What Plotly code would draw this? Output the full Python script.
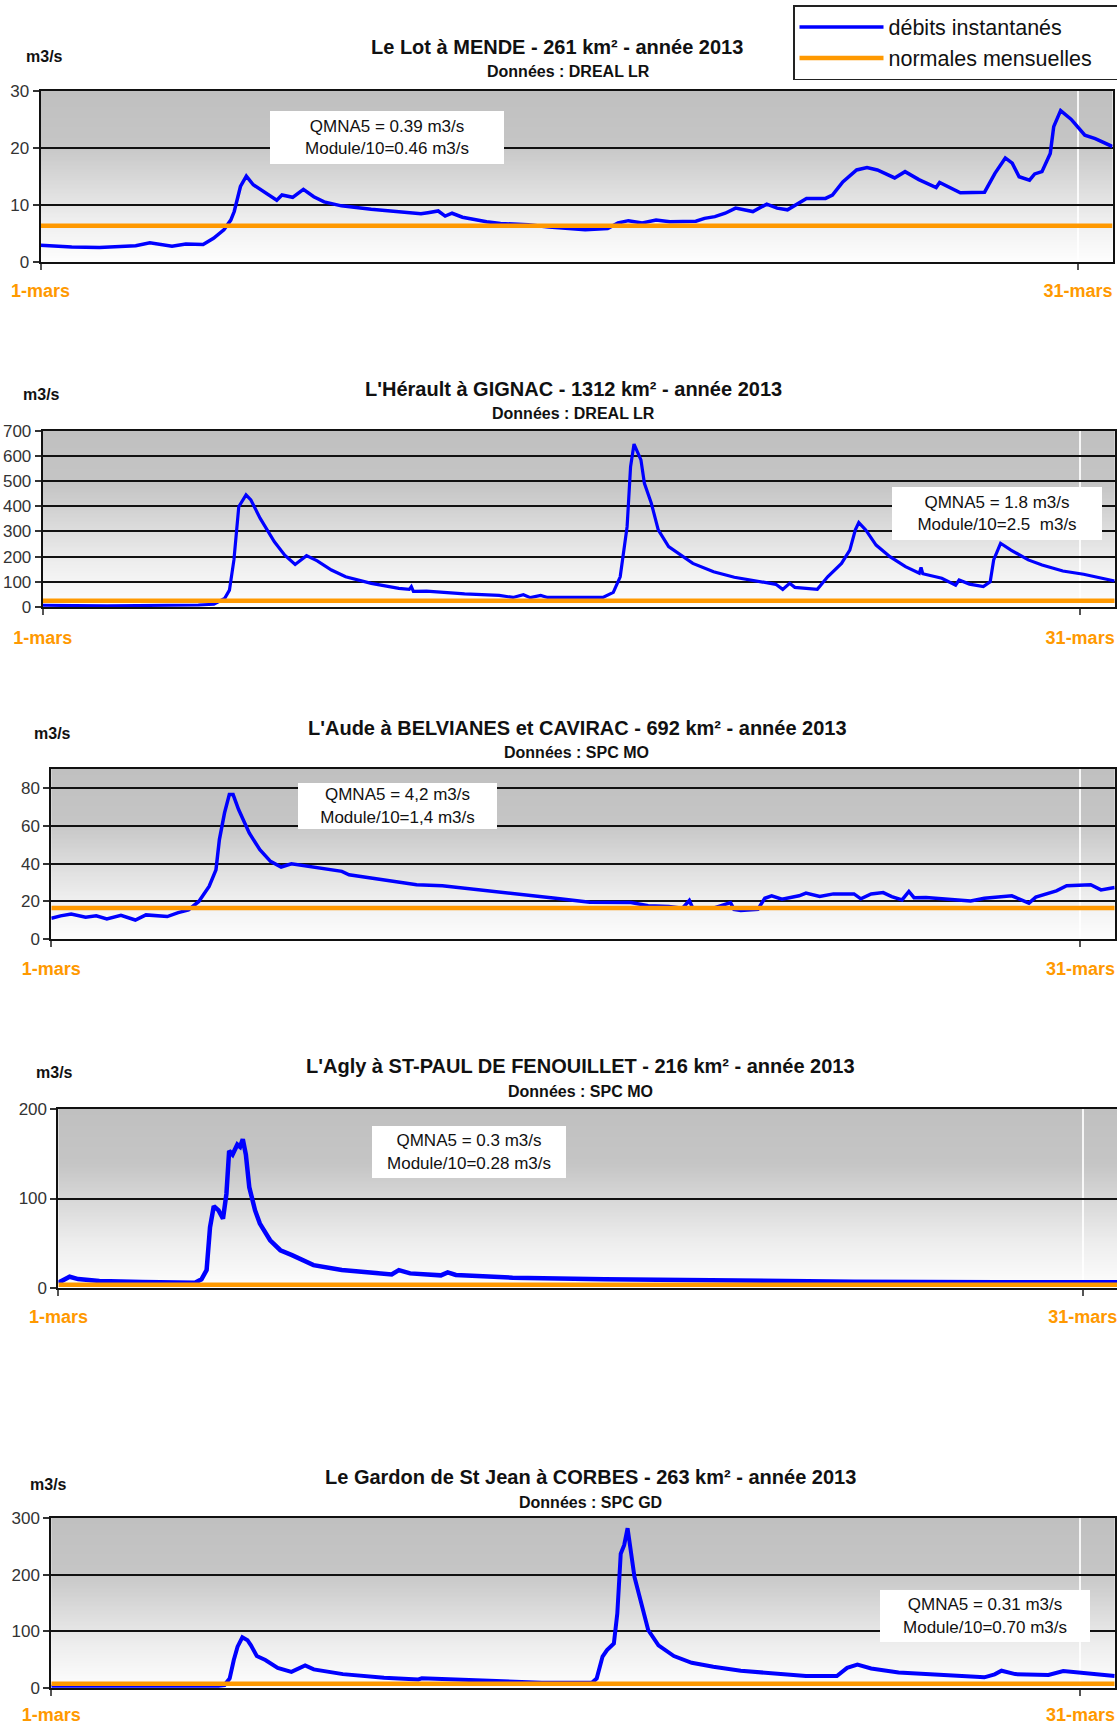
import base64
import struct
import zlib

import plotly.graph_objects as go

# ---------------- data (days since 1 March 00:00, flows in m3/s) ----------------
lot_days = [0, 0.9, 1.7, 2.75, 3.16, 3.8, 4.2, 4.7, 5.0, 5.3,
            5.5, 5.6, 5.78, 5.95, 6.15, 6.46, 6.83, 6.98, 7.29, 7.6,
            7.9, 8.2, 8.7, 9.56, 10.4, 11.0, 11.2, 11.5, 11.7, 11.9,
            12.2, 12.9, 13.3, 14.1, 14.7, 15.3, 15.75, 16.4, 16.7, 17.0,
            17.4, 17.8, 18.2, 18.95, 19.2, 19.5, 19.8, 20.1, 20.6, 21.0,
            21.3, 21.6, 22.15, 22.7, 22.9, 23.2, 23.6, 23.9, 24.2, 24.7,
            25.0, 25.4, 25.9, 26.0, 26.6, 27.3, 27.6, 27.9, 28.1, 28.3,
            28.6, 28.75, 28.96, 29.2, 29.3, 29.5, 29.8, 29.9, 30.2, 30.5,
            30.7, 31.0]
lot_flow = [2.9, 2.6, 2.5, 2.8, 3.3, 2.7, 3.1, 3.0, 4.1, 5.6,
            7.3, 8.8, 13.2, 15.0, 13.5, 12.3, 10.8, 11.7, 11.3, 12.7,
            11.4, 10.5, 9.8, 9.2, 8.8, 8.4, 8.6, 8.9, 8.0, 8.5,
            7.8, 7.0, 6.7, 6.5, 6.1, 5.8, 5.6, 5.8, 6.8, 7.2,
            6.8, 7.3, 7.0, 7.1, 7.6, 7.9, 8.5, 9.4, 8.8, 10.1,
            9.4, 9.1, 11.1, 11.1, 11.7, 14.0, 16.1, 16.5, 16.1, 14.7,
            15.8, 14.4, 13.0, 13.9, 12.1, 12.2, 15.5, 18.2, 17.3, 14.9,
            14.3, 15.4, 15.8, 19.0, 23.7, 26.5, 25.0, 24.3, 22.2, 21.6,
            21.1, 20.2]

herault_days = [0, 1.86, 4.5, 4.95, 5.26, 5.4, 5.53, 5.67, 5.88, 6.02,
                6.29, 6.7, 7.0, 7.3, 7.63, 7.94, 8.35, 8.76, 9.5, 10.3,
                10.6, 10.66, 10.72, 11.1, 12.2, 13.2, 13.6, 13.9, 14.1, 14.4,
                14.6, 15.3, 16.2, 16.5, 16.7, 16.9, 17.0, 17.1, 17.3, 17.4,
                17.6, 17.8, 18.1, 18.8, 19.4, 20.0, 20.6, 21.2, 21.4, 21.6,
                21.75, 22.4, 22.7, 23.1, 23.34, 23.5, 23.6, 23.8, 24.1, 24.5,
                24.95, 25.35, 25.4, 25.45, 26.0, 26.4, 26.5, 26.8, 27.2, 27.4,
                27.5, 27.7, 28.0, 28.5, 28.9, 29.5, 30.1, 30.6, 31.0]
herault_flow = [7, 5, 8, 11, 34, 67, 187, 398, 445, 425,
                352, 259, 206, 169, 204, 183, 147, 120, 94, 74,
                70, 81, 62, 63, 52, 46, 38, 49, 37, 46,
                38, 38, 38, 58, 120, 319, 557, 647, 584, 491,
                412, 306, 240, 173, 140, 118, 105, 90, 70, 94,
                78, 70, 120, 173, 226, 306, 335, 306, 246, 200,
                160, 134, 157, 132, 114, 87, 107, 91, 81, 100,
                187, 253, 226, 187, 167, 143, 130, 116, 103]

aude_days = [0, 0.27, 0.58, 1.0, 1.31, 1.62, 2.03, 2.45, 2.76, 3.38,
             3.7, 4.0, 4.3, 4.6, 4.8, 4.9, 5.05, 5.19, 5.3, 5.46,
             5.77, 6.08, 6.39, 6.7, 7.0, 7.85, 8.47, 8.68, 9.7, 10.65,
             11.4, 13.0, 14.7, 15.7, 16.9, 17.4, 18.0, 18.4, 18.6, 18.7,
             19.3, 19.8, 19.9, 20.1, 20.6, 20.8, 21.0, 21.3, 21.8, 22.0,
             22.4, 22.8, 23.4, 23.6, 23.9, 24.25, 24.5, 24.8, 25.0, 25.15,
             25.5, 26.8, 27.2, 28.0, 28.5, 28.7, 29.3, 29.6, 30.3, 30.6,
             31.0]
aude_flow = [11.1, 12.4, 13.4, 11.7, 12.4, 10.8, 12.7, 10.2, 12.9, 12.0,
             14.1, 15.5, 20, 27.9, 36.7, 52.7, 66.8, 76.5, 76.5, 68.6,
             56.2, 47.3, 41.2, 38.2, 39.9, 37.6, 35.9, 34.1, 31.4, 28.8,
             28.3, 25.3, 21.7, 19.6, 19.4, 17.7, 17.3, 16.4, 20.5, 16.4,
             16.4, 19.4, 15.8, 15.2, 15.9, 21.7, 23, 21.2, 23, 24.4,
             22.6, 24, 24, 21.4, 24, 24.7, 22.6, 20.8, 25.3, 22.0,
             22.1, 20.3, 21.7, 23, 19.1, 22.3, 25.6, 28.3, 28.8, 26.1,
             27.4]

agly_days = [0, 0.33, 0.58, 1.2, 2.46, 4.0, 4.19, 4.34, 4.44, 4.55,
             4.69, 4.82, 4.92, 5.0, 5.1, 5.24, 5.32, 5.4, 5.49, 5.59,
             5.76, 5.9, 6.2, 6.5, 6.84, 7.47, 8.3, 9.1, 9.76, 9.97,
             10.3, 11.2, 11.4, 11.64, 13.3, 16.0, 19.15, 23.3, 27.5, 31.0]
agly_flow = [6.3, 12.9, 10.3, 8.1, 7.0, 6.3, 10, 20.3, 68, 91.5,
             86.7, 77.5, 105, 153, 149, 160, 157.6, 166, 149, 112.5,
             86.7, 72, 53.5, 42.4, 36.9, 25.8, 20.3, 17.3, 15.5, 20.3,
             16.6, 14.4, 17.7, 14.8, 11.8, 10, 8.5, 7.4, 6.6, 6.6]

gardon_days = [0, 4.74, 5.05, 5.2, 5.32, 5.43, 5.57, 5.72, 5.82, 5.99,
               6.24, 6.6, 7.0, 7.4, 7.65, 8.5, 9.7, 10.7, 10.8, 12.0,
               13.05, 13.5, 14.3, 15.76, 15.9, 16.07, 16.2, 16.4, 16.5, 16.6,
               16.7, 16.8, 16.9, 17.0, 17.15, 17.4, 17.7, 18.15, 18.67, 19.3,
               20.1, 21.4, 22.0, 22.9, 23.2, 23.5, 23.9, 24.7, 25.9, 27.2,
               27.5, 27.7, 28.1, 29.07, 29.5, 30.1, 31.0]
gardon_flow = [1.8, 1.8, 4.7, 16.5, 49, 72.5, 89, 84, 75, 56,
               49, 35, 28, 39.5, 32.4, 24, 17.7, 14.7, 16.5, 13.6,
               11.2, 9.4, 8.8, 8.8, 16.5, 55, 66.6, 78, 131, 237,
               252, 282, 232, 196, 161, 102, 75, 56, 44, 37,
               30, 23.6, 20.6, 20.6, 35, 40.7, 34, 27, 22.4, 18.3,
               23.6, 30, 24, 22.4, 29.5, 25.3, 20.6]

normales = [6.3, 25, 16.5, 4, 7]

titles = ["Le Lot à MENDE - 261 km² - année 2013",
          "L'Hérault à GIGNAC - 1312 km² - année 2013",
          "L'Aude à BELVIANES et CAVIRAC - 692 km² - année 2013",
          "L'Agly à ST-PAUL DE FENOUILLET - 216 km² - année 2013",
          "Le Gardon de St Jean à CORBES - 263 km² - année 2013"]
sources = ["Données : DREAL LR", "Données : DREAL LR", "Données : SPC MO",
           "Données : SPC MO", "Données : SPC GD"]
qmna5 = ["QMNA5 = 0.39 m3/s", "QMNA5 = 1.8 m3/s", "QMNA5 = 4,2 m3/s",
         "QMNA5 = 0.3 m3/s", "QMNA5 = 0.31 m3/s"]
module10 = ["Module/10=0.46 m3/s", "Module/10=2.5\u00a0 m3/s", "Module/10=1,4 m3/s",
            "Module/10=0.28 m3/s", "Module/10=0.70 m3/s"]
y_ticks = [[0, 10, 20, 30],
           [0, 100, 200, 300, 400, 500, 600, 700],
           [0, 20, 40, 60, 80],
           [0, 100, 200],
           [0, 100, 200, 300]]
y_max = [30, 700, 90, 200, 300]
x_tickvals = [0, 30]
x_ticktext = ["1-mars", "31-mars"]
x_max = 31
legend_names = ["débits instantanés", "normales mensuelles"]

series_days = [lot_days, herault_days, aude_days, agly_days, gardon_days]
series_flow = [lot_flow, herault_flow, aude_flow, agly_flow, gardon_flow]

# ---------------- layout geometry (pixels) ----------------
W, H = 1117, 1727
FONT = "Liberation Sans, Arial, sans-serif"
panels = [
    dict(left=40.6, right=1112.5, top=90.7, bottom=261.7, tx=557, ty=47, sx=568, sy=71,
         ux=44, uy=57, box=(270, 504, 111, 164), lw=3.5, standoff=6),
    dict(left=42.7, right=1114.7, top=430.7, bottom=607, tx=573, ty=389, sx=573, sy=413,
         ux=41, uy=395, box=(892, 1102, 487, 540), lw=3.2, standoff=7),
    dict(left=51.3, right=1114.7, top=769, bottom=939.3, tx=577, ty=728, sx=576, sy=752,
         ux=52, uy=734, box=(298, 497, 783, 829), lw=3.5, standoff=6),
    dict(left=58.4, right=1117, top=1108.7, bottom=1288.3, tx=580, ty=1066, sx=580, sy=1091,
         ux=54, uy=1072, box=(372, 566, 1126, 1178), lw=4.5, standoff=5),
    dict(left=51.3, right=1114.7, top=1518, bottom=1687.7, tx=590, ty=1477, sx=590, sy=1502,
         ux=48, uy=1484, box=(880, 1090, 1590, 1642), lw=4.0, standoff=4),
]


def fx(px):
    return px / W


def fy(py):
    return 1 - py / H


def gradient_png():
    keys = [(0.0, 192), (0.3, 197), (0.5, 215), (0.75, 238), (1.0, 254)]
    rows = 128
    raw = b""
    for r in range(rows):
        t = r / (rows - 1)
        for (t0, c0), (t1, c1) in zip(keys[:-1], keys[1:]):
            if t0 <= t <= t1:
                c = int(round(c0 + (c1 - c0) * (t - t0) / (t1 - t0)))
                break
        raw += b"\x00" + bytes([c, c, c]) * 2

    def chunk(tag, data):
        return (struct.pack(">I", len(data)) + tag + data
                + struct.pack(">I", zlib.crc32(tag + data) & 0xFFFFFFFF))

    png = (b"\x89PNG\r\n\x1a\n"
           + chunk(b"IHDR", struct.pack(">IIBBBBB", 2, rows, 8, 2, 0, 0, 0))
           + chunk(b"IDAT", zlib.compress(raw))
           + chunk(b"IEND", b""))
    return "data:image/png;base64," + base64.b64encode(png).decode()


GRAD = gradient_png()
PAD = "\u00a0" * 4

fig = go.Figure()
annotations = []
images = []
layout_axes = {}

for i in range(5):
    p = panels[i]
    k = "" if i == 0 else str(i + 1)
    xa, ya = "x" + k, "y" + k
    assert len(series_days[i]) == len(series_flow[i])
    fig.add_trace(go.Scatter(
        x=series_days[i], y=series_flow[i], xaxis=xa, yaxis=ya, mode="lines",
        line=dict(color="#0000FF", width=p["lw"]), name=legend_names[0] + PAD,
        legendgroup="deb", showlegend=(i == 0), hoverinfo="skip"))
    fig.add_trace(go.Scatter(
        x=[0, x_max], y=[normales[i], normales[i]], xaxis=xa, yaxis=ya, mode="lines",
        line=dict(color="#FF9900", width=4.5), name=legend_names[1] + PAD,
        legendgroup="norm", showlegend=(i == 0), hoverinfo="skip"))

    layout_axes["xaxis" + k] = dict(
        domain=[fx(p["left"]), fx(p["right"])], anchor=ya, range=[0, x_max],
        automargin=False, ticklabeloverflow="allow",
        tickvals=x_tickvals, ticktext=x_ticktext, ticks="outside", ticklen=6,
        tickcolor="#555", tickwidth=1.5,
        tickfont=dict(family=FONT, size=18, color="#FF9900", weight="bold"),
        ticklabelstandoff=p["standoff"],
        showgrid=True, gridcolor="rgba(255,255,255,0.85)", gridwidth=1.5,
        showline=True, mirror=True, linecolor="#111", linewidth=2, zeroline=False,
        fixedrange=True)
    layout_axes["yaxis" + k] = dict(
        domain=[fy(p["bottom"]), fy(p["top"])], anchor=xa, range=[0, y_max[i]],
        automargin=False,
        tickvals=y_ticks[i], ticks="outside", ticklen=6, tickcolor="#333", tickwidth=1.5,
        tickfont=dict(family=FONT, size=17, color="#333"),
        showgrid=True, gridcolor="#111", gridwidth=2,
        showline=True, mirror=True, linecolor="#111", linewidth=2, zeroline=False,
        fixedrange=True)

    images.append(dict(source=GRAD, xref=xa + " domain", yref=ya + " domain", x=0, y=1,
                       sizex=1, sizey=1, xanchor="left", yanchor="top",
                       sizing="stretch", layer="below"))

    annotations.append(dict(text=titles[i], xref="paper", yref="paper",
                            x=fx(p["tx"]), y=fy(p["ty"]), xanchor="center", yanchor="middle",
                            showarrow=False,
                            font=dict(family=FONT, size=20, color="#111", weight="bold")))
    annotations.append(dict(text=sources[i], xref="paper", yref="paper",
                            x=fx(p["sx"]), y=fy(p["sy"]), xanchor="center", yanchor="middle",
                            showarrow=False,
                            font=dict(family=FONT, size=16, color="#111", weight="bold")))
    annotations.append(dict(text="m3/s", xref="paper", yref="paper",
                            x=fx(p["ux"]), y=fy(p["uy"]), xanchor="center", yanchor="middle",
                            showarrow=False,
                            font=dict(family=FONT, size=16, color="#111", weight="bold")))
    bx0, bx1, by0, by1 = p["box"]
    annotations.append(dict(text=qmna5[i] + "<br>" + module10[i], xref="paper", yref="paper",
                            x=fx((bx0 + bx1) / 2), y=fy((by0 + by1) / 2),
                            xanchor="center", yanchor="middle", showarrow=False,
                            width=bx1 - bx0, height=by1 - by0, bgcolor="#FFFFFF",
                            borderpad=0, borderwidth=0, align="center", valign="middle",
                            font=dict(family=FONT, size=17, color="#111")))

fig.update_layout(
    template="none",
    width=W, height=H, margin=dict(l=0, r=0, t=0, b=0, autoexpand=False),
    paper_bgcolor="#FFFFFF", plot_bgcolor="#FFFFFF",
    annotations=annotations, images=images,
    legend=dict(x=fx(793), y=fy(5), xanchor="left", yanchor="top",
                bgcolor="#FFFFFF", bordercolor="#222", borderwidth=1.5,
                font=dict(family=FONT, size=21.5, color="#111"),
                itemwidth=84, tracegroupgap=0),
    showlegend=True,
    **layout_axes,
)

fig.write_html("out.html", config={"displayModeBar": False},
               post_script="document.body.style.margin='0px';")
